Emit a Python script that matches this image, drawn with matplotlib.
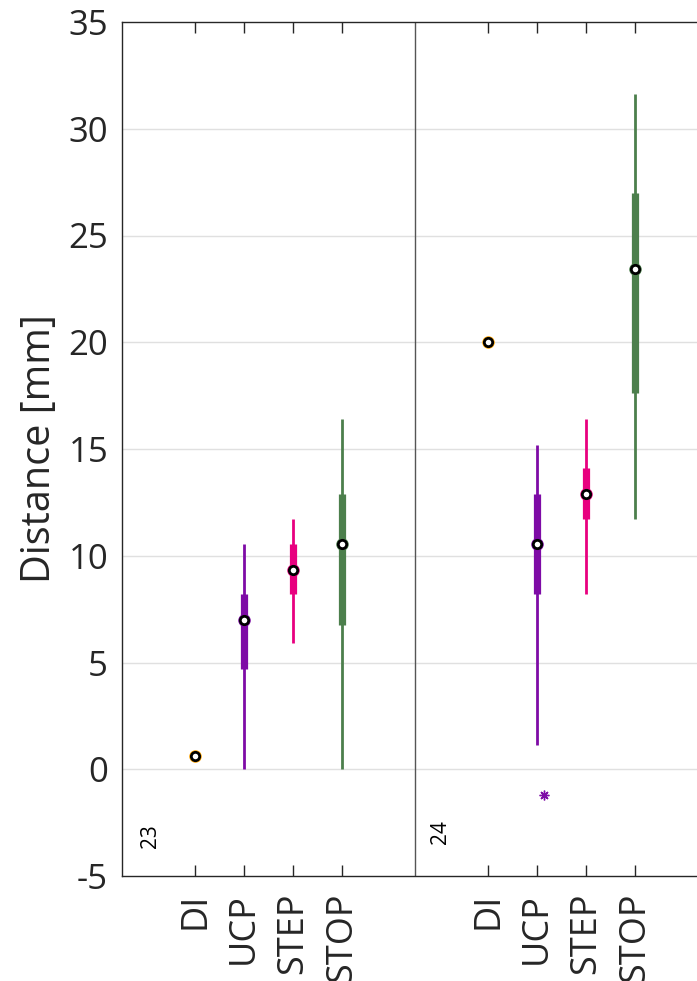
import matplotlib
matplotlib.use("Agg")
import matplotlib.pyplot as plt

categories = ["DI", "UCP", "STEP", "STOP"]
groups = ["23", "24"]
positions = [[1, 2, 3, 4], [7, 8, 9, 10]]
colors = ["#FFA500", "#7E0BA6", "#E8007F", "#4C7F4C"]

medians = [[0.6, 7.0, 9.35, 10.55], [20.0, 10.55, 12.9, 23.45]]
box_low = [[0.6, 4.7, 8.2, 6.75], [20.0, 8.2, 11.7, 17.6]]
box_high = [[0.6, 8.2, 10.55, 12.9], [20.0, 12.9, 14.1, 27.0]]
whisk_low = [[0.6, 0.0, 5.9, 0.0], [20.0, 1.15, 8.2, 11.7]]
whisk_high = [[0.6, 10.55, 11.7, 16.4], [20.0, 15.2, 16.4, 31.65]]
outlier_x = [8.15]
outlier_y = [-1.2]
outlier_color = "#7E0BA6"

yticks = [-5, 0, 5, 10, 15, 20, 25, 30, 35]

plt.rcParams['font.family'] = ['Open Sans', 'DejaVu Sans']
fig = plt.figure(figsize=(6.97, 9.81), dpi=100)
left = 122 / 697
right_px = 708
ax = fig.add_axes([left, 1 - 876 / 981, (right_px - 122) / 697, (876 - 22) / 981])

ax.set_xlim(-0.5, 11.5)
ax.set_ylim(-5, 35)

for yv in yticks[1:-1]:
    ax.axhline(yv, color="#E0E0E0", lw=1.0, zorder=0)

for g in range(2):
    for i in range(4):
        x = positions[g][i]
        c = colors[i]
        if whisk_high[g][i] != whisk_low[g][i]:
            ax.vlines(x, whisk_low[g][i], whisk_high[g][i], color=c, lw=2.0, zorder=2)
            ax.vlines(x, box_low[g][i], box_high[g][i], color=c, lw=5.2, zorder=3)
        ax.plot([x], [medians[g][i]], marker='o', ms=8, mfc=c, mec=c, zorder=4)
        ax.plot([x], [medians[g][i]], marker='o', ms=6, mfc='white', mec='black', mew=2.0, zorder=5)

ax.plot(outlier_x, outlier_y, marker=(8, 2, 0), ls='none', color=outlier_color, ms=7, mew=1.0)

ax.axvline(5.5, color="#555555", lw=1.0, zorder=1)

ax.text(0.08, -3.15, groups[0], rotation=90, ha='center', va='center', fontsize=15, color='black')
ax.text(6.02, -2.95, groups[1], rotation=90, ha='center', va='center', fontsize=15, color='black')

allpos = positions[0] + positions[1]
ax.set_xticks(allpos)
ax.set_xticklabels(categories * 2, rotation=90, fontsize=26, color="#262626")
ax.tick_params(axis='x', direction='in', length=8, width=1, color="#262626", top=True, pad=12)
ax.set_yticks(yticks)
ax.set_yticklabels([str(v) for v in yticks], fontsize=25, color="#262626")
ax.tick_params(axis='y', length=0, pad=10)
ax.set_ylabel("Distance [mm]", fontsize=28.5, color="#262626")
ax.yaxis.set_label_coords(-0.105, 0.5)

for s in ax.spines.values():
    s.set_color("#262626")
    s.set_linewidth(1.0)

fig.savefig("out.png", dpi=100)
